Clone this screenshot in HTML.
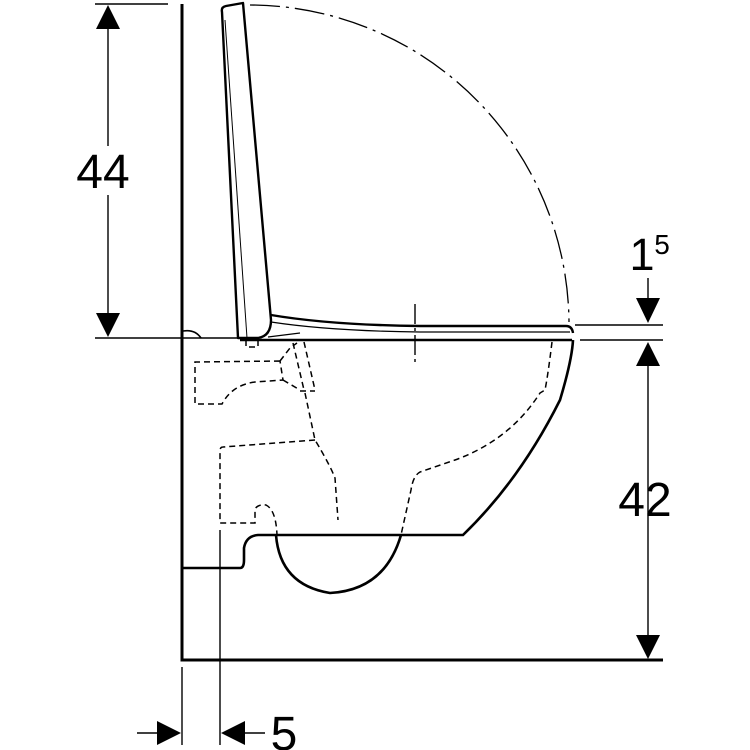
<!DOCTYPE html>
<html><head><meta charset="utf-8"><style>html,body{margin:0;padding:0;background:#fff}svg{display:block}</style></head>
<body>
<svg width="750" height="750" viewBox="0 0 750 750" xmlns="http://www.w3.org/2000/svg" font-family="Liberation Sans, Arial, sans-serif">
<g fill="none" stroke="#000" stroke-linecap="butt">
<!-- wall & floor -->
<path d="M182 4 V660 H663" stroke-width="3"/>
<path d="M183 568 H240 Q244 568 244 560 V548 Q246 536 258 535 H463 Q520 480 560 400 Q572 360 573 340" stroke-width="2.6"/>
<path d="M276 535 Q280 585 330 593 Q385 590 401 535" stroke-width="2.6"/>
<path d="M240 340 H572" stroke-width="2.6"/>
<!-- small wall arc -->
<path d="M183 331 Q195 329 201 338" stroke-width="1.6"/>
<!-- reference lines -->
<path d="M95 338 H240" stroke-width="1.4"/>
<path d="M575 325 H663 M580 340 H663" stroke-width="1.4"/>
<path d="M95 4 H168" stroke-width="1.4"/>
<!-- upright lid -->
<path d="M222 12 Q221 7 226 6 L243 3 L271 320 Q271 336 258 338 L238 338 Z" stroke-width="2.4" stroke-linejoin="round"/>
<path d="M225 20 L247 338" stroke-width="1"/>
<!-- seat -->
<path d="M271 315 Q330 325 420 326 H566 Q572 326 573 333" stroke-width="2.4"/>
<path d="M271 322 Q330 331 420 332 H570" stroke-width="1.2"/>
<path d="M268 337 Q300 333 300 333" stroke-width="1.2"/>
<!-- dash-dot arc -->
<path d="M250 5 A320 320 0 0 1 569 322" stroke-width="1.3" stroke-dasharray="30 6 3 6"/>
<!-- centerline -->
<path d="M415 304 V362" stroke-width="1.4" stroke-dasharray="20 4 3 4"/>
<!-- dashed hidden lines -->
<g stroke-width="1.5" stroke-dasharray="6 4">
<path d="M246 340 V347 H258 V340"/>
<path d="M280 361 L195 362 V404 H222 Q232 385 255 382 L283 380 Z"/>
<path d="M280 361 L290 348 L297 343"/>
<path d="M283 380 L300 390"/>
<path d="M293 343 L304 390 M304 342 L315 390 M300 391 H315"/>
<path d="M305 393 L315 440 Q330 465 335 478 L338 520"/>
<path d="M315 440 L223 447 Q220 447 220 451 V523 H255 V509 Q258 504 266 505 Q276 510 277 535"/>
<path d="M552 342 Q548 375 545 390 L540 393 Q510 440 455 460 L420 472 Q413 476 411 490 L401 535"/>
</g>
<!-- extension lines -->
<path d="M220 530 V745" stroke-width="1.4"/>
<path d="M182 667 V745" stroke-width="1.4"/>
<!-- dim lines -->
<path d="M108 28 V146 M108 195 V314" stroke-width="1.4"/>
<path d="M648 278 V300 M648 364 V637" stroke-width="1.4"/>
<path d="M137 733 H160 M242 733 H265" stroke-width="1.4"/>
</g>
<g fill="#000">
<polygon points="108,5 96,29 120,29"/>
<polygon points="108,337 96,313 120,313"/>
<polygon points="648,323 636,298 660,298"/>
<polygon points="648,342 636,366 660,366"/>
<polygon points="648,659 636,635 660,635"/>
<polygon points="181,733 157,721 157,745"/>
<polygon points="221,733 245,721 245,745"/>
</g>
<g fill="#000">
<text x="103" y="188" font-size="48" text-anchor="middle">44</text>
<text x="645" y="516" font-size="48" text-anchor="middle">42</text>
<text x="284" y="750" font-size="48" text-anchor="middle">5</text>
<text x="642" y="270" font-size="45" text-anchor="middle">1</text>
<text x="662" y="254" font-size="28" text-anchor="middle">5</text>
</g>
</svg>
</body></html>
